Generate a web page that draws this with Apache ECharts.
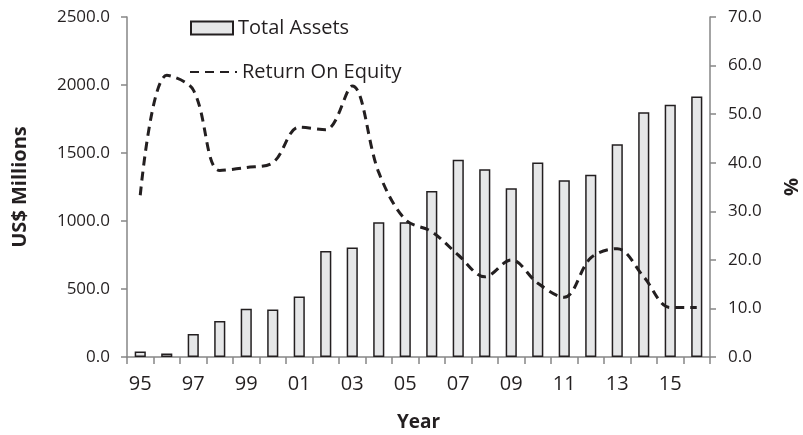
<!DOCTYPE html>
<html>
<head>
<meta charset="utf-8">
<script src="https://cdn.jsdelivr.net/npm/echarts@6/dist/echarts.min.js"></script>
<style>
html,body{margin:0;padding:0;background:#fff;}
#chart{width:803px;height:435px;}
</style>
</head>
<body>
<div id="chart"></div>
<script>
var years = ['95','96','97','98','99','00','01','02','03','04','05','06','07','08','09','10','11','12','13','14','15','16'];
var totalAssets = [40,25,170,265,355,350,445,780,805,990,990,1220,1450,1380,1240,1430,1300,1340,1565,1800,1855,1915];
var roe = [33.3,58,55,38.4,39,40,47.3,46.8,55.8,38,28.3,25.8,21,16.5,20,15.2,12.3,20.4,22.3,16.5,10.2,10.2];
var leftTicks = {min:0, max:2500, interval:500};
var rightTicks = {min:0, max:70, interval:10};

var FONT = 'Open Sans';
var TXT = '#231f20';
var AX = '#868686';

var chart = echarts.init(document.getElementById('chart'), null, {renderer:'canvas'});
chart.setOption({
  animation:false,
  backgroundColor:'#fff',
  textStyle:{fontFamily:FONT, color:TXT},
  grid:{left:127, right:93, top:17, bottom:78, containLabel:false, outerBoundsMode:'none'},
  legend:[
    {data:[{name:'Total Assets', icon:'rect'}], left:190, top:16, padding:0, itemWidth:42, itemHeight:13,
     textStyle:{fontFamily:FONT, fontSize:20, color:TXT, lineHeight:24}},
    {data:[{name:'Return On Equity', itemStyle:{opacity:0, color:'rgba(0,0,0,0)', borderWidth:0}}],
     left:189, top:60, padding:0, itemWidth:47, itemHeight:13,
     textStyle:{fontFamily:FONT, fontSize:20, color:TXT, lineHeight:24}}
  ],
  xAxis:{
    type:'category', data:years,
    name:'Year', nameLocation:'middle', nameGap:56,
    nameTextStyle:{fontFamily:FONT, fontSize:19, fontWeight:'bold', color:TXT},
    axisLine:{lineStyle:{color:AX, width:1.5}},
    axisTick:{show:true, interval:0, length:7, lineStyle:{color:AX, width:1.5}},
    axisLabel:{interval:1, margin:17, fontSize:20, color:TXT, fontFamily:FONT}
  },
  yAxis:[
    {type:'value', min:leftTicks.min, max:leftTicks.max, interval:leftTicks.interval,
     name:'US$ Millions', nameLocation:'middle', nameGap:97, nameRotate:90,
     nameTextStyle:{fontFamily:FONT, fontSize:20, fontWeight:'bold', color:TXT},
     axisLine:{show:true, lineStyle:{color:AX, width:1.5}},
     axisTick:{show:true, length:6, lineStyle:{color:AX, width:1.5}},
     splitLine:{show:false},
     axisLabel:{margin:17, fontSize:17, color:TXT, fontFamily:FONT, formatter:function(v){return v.toFixed(1);}}},
    {type:'value', min:rightTicks.min, max:rightTicks.max, interval:rightTicks.interval,
     name:'%', nameLocation:'middle', nameGap:72, nameRotate:90,
     nameTextStyle:{fontFamily:FONT, fontSize:20, fontWeight:'bold', color:TXT},
     axisLine:{show:true, lineStyle:{color:AX, width:1.5}},
     axisTick:{show:true, length:6, lineStyle:{color:AX, width:1.5}},
     splitLine:{show:false},
     axisLabel:{margin:18, fontSize:17, color:TXT, fontFamily:FONT, formatter:function(v){return v.toFixed(1);}}}
  ],
  series:[
    {name:'Total Assets', type:'bar', data:totalAssets, barWidth:'42%',
     itemStyle:{color:'#e6e7e8', borderColor:TXT, borderWidth:1.5}},
    {name:'Return On Equity', type:'line', yAxisIndex:1, data:roe, smooth:0.35,
     symbol:'none', showSymbol:false, z:5,
     lineStyle:{color:TXT, width:3, type:[9,6], cap:'butt'},
     itemStyle:{color:TXT}}
  ]
});
</script>
</body>
</html>
